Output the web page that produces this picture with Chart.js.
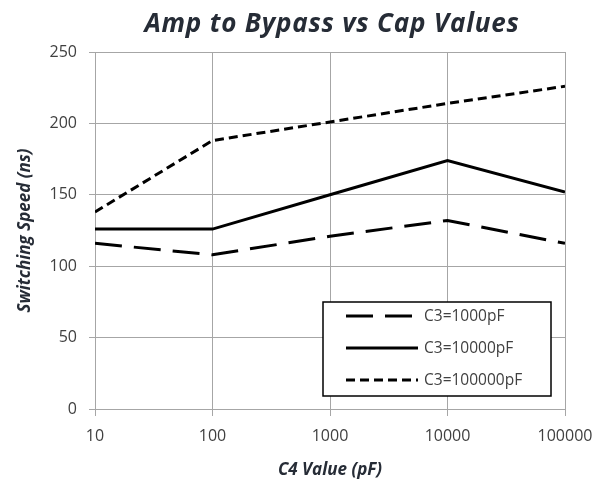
<!DOCTYPE html>
<html>
<head>
<meta charset="utf-8">
<script src="https://cdn.jsdelivr.net/npm/chart.js@4.4.1/dist/chart.umd.min.js"></script>
<style>
    html, body { margin: 0; padding: 0; background: #fff; }
</style>
</head>
<body>
<canvas id="capChart" width="607" height="486"></canvas>
<script>
const capValues = [10, 100, 1000, 10000, 100000];
const seriesLabels = ["C3=1000pF", "C3=10000pF", "C3=100000pF"];
const speedC3_1000 = [116, 108, 121, 132, 116];
const speedC3_10000 = [126, 126, 150, 174, 152];
const speedC3_100000 = [138, 188, 201, 214, 226];
const yTicks = [0, 50, 100, 150, 200, 250];

const chartTitle = "Amp to Bypass vs Cap Values";
const textColor = "#404040";
const titleColor = "#262c36";
const gridColor = "#a6a6a6";

function toPoints(values) {
    return capValues.map((c, i) => ({ x: c, y: values[i] }));
}

// title centred over the plot area, not the whole canvas
const titlePlugin = {
    id: "plotTitle",
    afterDraw(chart) {
        const ctx = chart.ctx;
        const area = chart.chartArea;
        ctx.save();
        ctx.font = "italic bold 26px 'Open Sans'";
        ctx.letterSpacing = "0.8px";
        ctx.fillStyle = titleColor;
        ctx.textAlign = "center";
        ctx.textBaseline = "alphabetic";
        ctx.fillText(chartTitle, (area.left + area.right) / 2 + 2, 32);
        ctx.restore();
    }
};

// boxed legend sitting inside the plot, lower right
const legendBoxPlugin = {
    id: "legendBox",
    afterDatasetsDraw(chart) {
        const ctx = chart.ctx;
        const box = { x: 323, y: 302, w: 228, h: 94 };
        ctx.save();
        ctx.fillStyle = "#ffffff";
        ctx.fillRect(box.x, box.y, box.w, box.h);
        ctx.strokeStyle = "#000000";
        ctx.lineWidth = 1.5;
        ctx.strokeRect(box.x, box.y, box.w, box.h);

        chart.data.datasets.forEach((ds, i) => {
            const y = box.y + 14 + i * 32;
            ctx.beginPath();
            ctx.setLineDash(ds.borderDash || []);
            ctx.lineWidth = ds.borderWidth;
            ctx.strokeStyle = ds.borderColor;
            ctx.moveTo(box.x + 23, y);
            ctx.lineTo(box.x + 95, y);
            ctx.stroke();
            ctx.setLineDash([]);
            ctx.font = "15.5px 'Open Sans'";
            ctx.fillStyle = textColor;
            ctx.textAlign = "left";
            ctx.textBaseline = "middle";
            ctx.fillText(ds.label, box.x + 101, y + 1);
        });
        ctx.restore();
    }
};

new Chart(document.getElementById("capChart").getContext("2d"), {
    type: "line",
    data: {
        datasets: [
            {
                label: seriesLabels[0],
                data: toPoints(speedC3_1000),
                borderColor: "#000000",
                borderWidth: 3,
                borderDash: [27, 12]
            },
            {
                label: seriesLabels[1],
                data: toPoints(speedC3_10000),
                borderColor: "#000000",
                borderWidth: 3
            },
            {
                label: seriesLabels[2],
                data: toPoints(speedC3_100000),
                borderColor: "#000000",
                borderWidth: 3,
                borderDash: [9, 5]
            }
        ]
    },
    options: {
        responsive: false,
        animation: false,
        elements: {
            point: { radius: 0 },
            line: { tension: 0, fill: false }
        },
        layout: {
            padding: { top: 52, right: 42, left: 0, bottom: 0 }
        },
        plugins: {
            legend: { display: false },
            tooltip: { enabled: false },
            title: { display: false }
        },
        scales: {
            x: {
                type: "logarithmic",
                min: 10,
                max: 100000,
                afterBuildTicks: (scale) => {
                    scale.ticks = capValues.map((v) => ({ value: v }));
                },
                afterFit: (scale) => {
                    scale.height = 77;
                },
                ticks: {
                    callback: (value) => String(value),
                    color: textColor,
                    font: { family: "'Open Sans'", size: 16 },
                    padding: 11,
                    maxRotation: 0,
                    autoSkip: false
                },
                grid: { color: gridColor, lineWidth: 1, tickLength: 7 },
                border: { color: gridColor },
                title: {
                    display: true,
                    text: "C4 Value (pF)",
                    color: titleColor,
                    font: { family: "'Open Sans'", size: 17, weight: "bold", style: "italic" },
                    padding: { top: 0, bottom: 6 }
                }
            },
            y: {
                min: 0,
                max: 250,
                afterBuildTicks: (scale) => {
                    scale.ticks = yTicks.map((v) => ({ value: v }));
                },
                afterFit: (scale) => {
                    scale.width = 95;
                },
                ticks: {
                    color: textColor,
                    font: { family: "'Open Sans'", size: 16 },
                    padding: 12
                },
                grid: { color: gridColor, lineWidth: 1, tickLength: 6 },
                border: { color: gridColor },
                title: {
                    display: true,
                    text: "Switching Speed (ns)",
                    color: titleColor,
                    font: { family: "'Open Sans'", size: 17, weight: "bold", style: "italic" },
                    padding: { top: 15, bottom: 0 }
                }
            }
        }
    },
    plugins: [titlePlugin, legendBoxPlugin]
});
</script>
</body>
</html>
